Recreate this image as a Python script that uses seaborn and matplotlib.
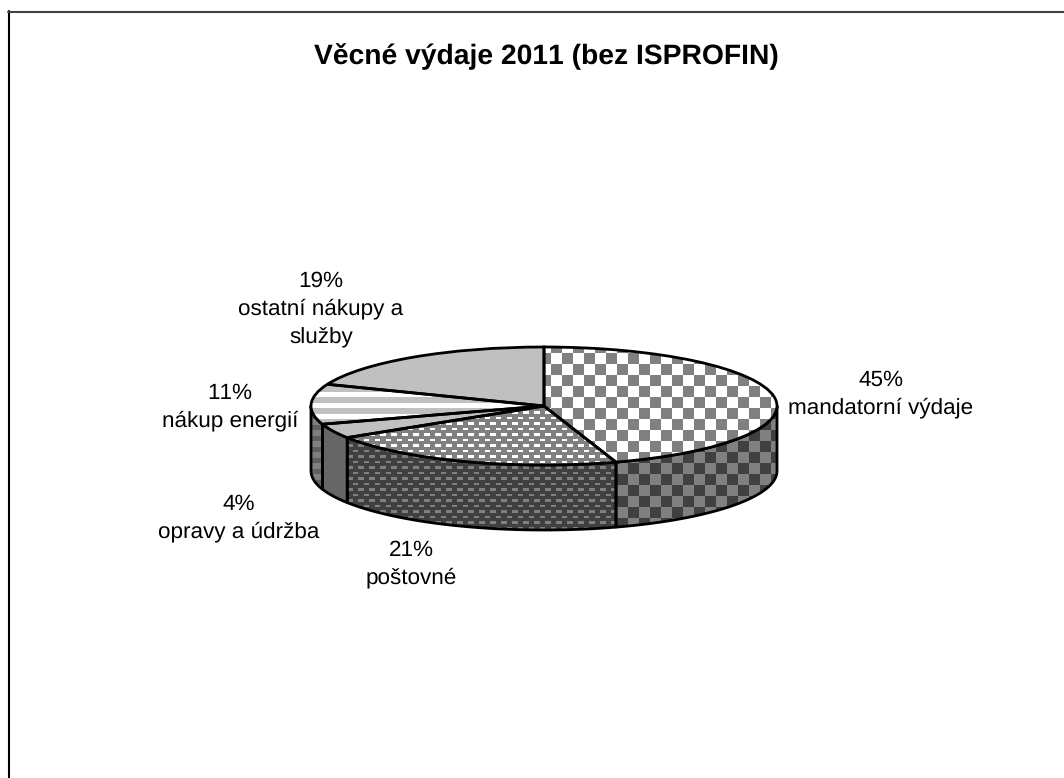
import numpy as np
import matplotlib
matplotlib.use('Agg')
import matplotlib.pyplot as plt
from matplotlib.colors import to_rgb
from matplotlib.lines import Line2D
from matplotlib.patches import Polygon
import seaborn as sns

title = 'Věcné výdaje 2011 (bez ISPROFIN)'
categories = ['mandatorní výdaje', 'poštovné', 'opravy a údržba', 'nákup energií', 'ostatní nákupy a\nslužby']
shares = [45, 21, 4, 11, 19]

W, H = 1064, 778
CX, CY, RX, RY, DEPTH = 544, 406, 233, 59, 65

sns.set_theme(style='white')
plt.rcParams['font.family'] = ['Liberation Sans', 'DejaVu Sans']
plt.rcParams['text.hinting'] = 'none'
plt.rcParams['text.kerning_factor'] = 16

yy, xx = np.indices((H, W))


def paint(mask, back, front):
    img = np.empty((H, W, 3))
    img[:] = to_rgb(back)
    img[mask] = to_rgb(front)
    return img


def checker():
    return ((xx - 1) // 11 + (yy - 1) // 11) % 2 == 1


def bricks():
    wide = ((yy - 4) % 11 < 3) & ((xx - 6) % 11 < 6)
    narrow = ((yy - 10) % 11 < 2) & ((xx - 1) % 11 < 5)
    return wide | narrow


def stripes():
    return (yy - 1) % 11 < 6


def solid():
    return np.zeros((H, W), dtype=bool)


tops = [paint(checker(), '#ffffff', '#808080'),
        paint(bricks(), '#808080', '#ffffff'),
        paint(solid(), '#c0c0c0', '#c0c0c0'),
        paint(stripes(), '#ffffff', '#c0c0c0'),
        paint(solid(), '#c0c0c0', '#c0c0c0')]
sides = [paint(~checker(), '#404040', '#808080'),
         paint(bricks(), '#404040', '#808080'),
         paint(solid(), '#666666', '#666666'),
         paint(stripes(), '#606060', '#808080'),
         paint(solid(), '#606060', '#606060')]

fig = plt.figure(figsize=(W / 100, H / 100), dpi=100)
ax = fig.add_axes([0, 0, 1, 1])

wedges, _ = ax.pie(shares, startangle=90, counterclock=False, radius=1,
                   wedgeprops={'facecolor': 'none', 'edgecolor': 'black', 'linewidth': 2, 'zorder': 3})
ax.set_aspect('auto')
xlim = (-CX / RX, (W - CX) / RX)
ylim = ((CY - H) / RY, CY / RY)
extent = (xlim[0], xlim[1], ylim[0], ylim[1])
drop = DEPTH / RY

# visible wall: only the front half of the rim
ends = np.cumsum(shares) / np.sum(shares) * 360
starts = np.concatenate([[0], ends[:-1]])
for a, b, img in zip(starts, ends, sides):
    lo, hi = max(a, 90), min(b, 270)
    if hi <= lo:
        continue
    t = np.radians(np.linspace(lo, hi, 80))
    upper = np.column_stack([np.sin(t), np.cos(t)])
    lower = upper[::-1] - [0, drop]
    wall = Polygon(np.vstack([upper, lower]), closed=True, facecolor='none',
                   edgecolor='black', linewidth=2, zorder=2, joinstyle='round')
    ax.add_patch(wall)
    im = ax.imshow(img, extent=extent, origin='upper', aspect='auto', interpolation='nearest', zorder=1.5)
    im.set_clip_path(wall)

for wedge, img in zip(wedges, tops):
    im = ax.imshow(img, extent=extent, origin='upper', aspect='auto', interpolation='nearest', zorder=2.5)
    im.set_clip_path(wedge)

ax.set_xlim(xlim)
ax.set_ylim(ylim)
ax.set_axis_off()


def label(px, py, text, **kw):
    fig.text(px / W, 1 - py / H, text, ha='center', va='center', color='black', **kw)


pct = [f'{s}%' for s in shares]
label_pos = [(881, 394), (411, 564), (239, 518), (230, 407), (321, 309)]
for (px, py), p, c in zip(label_pos, pct, categories):
    label(px, py, f'{p}\n{c}', fontsize=16.2, linespacing=1.43)
label(546, 57, title, fontsize=20.3, fontweight='bold')

fig.add_artist(Line2D([8.5 / W, 8.5 / W], [0, 1 - 11 / H], color='black', lw=1.5))
fig.add_artist(Line2D([8 / W, 1], [1 - 11.5 / H, 1 - 11.5 / H], color='#404040', lw=1.5))

fig.savefig('out.png', dpi=100)
